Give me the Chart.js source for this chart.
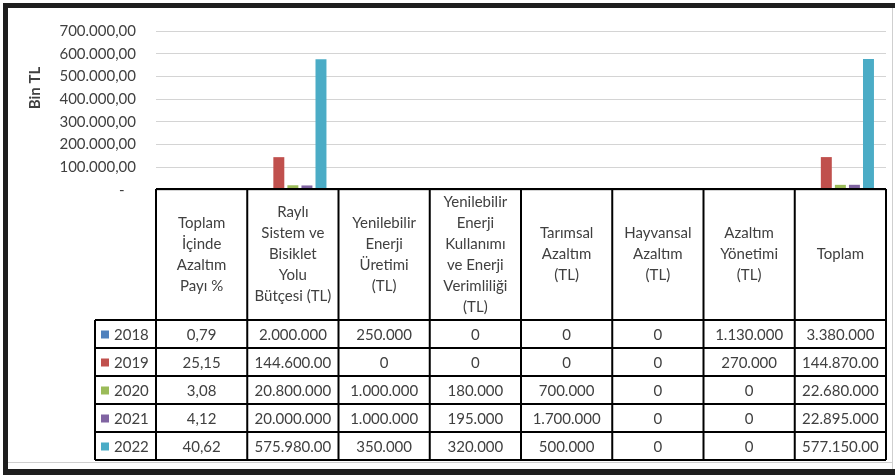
<!DOCTYPE html>
<html lang="tr">
<head>
  <meta charset="UTF-8">
  <title>Azaltım Bütçesi</title>
  <script src="https://cdn.jsdelivr.net/npm/chart.js"></script>
  <style>
    * { box-sizing: border-box; }
    body { margin: 0; background: #fff; }
    .wrap { position: relative; width: 895px; height: 475px; }
  </style>
</head>
<body>
  <div class="wrap"><canvas id="chart" width="895" height="475"></canvas></div>

  <script>
    // kategori başlıkları (tablo başlık satırı)
    const categories = [
      ['Toplam', 'İçinde', 'Azaltım', 'Payı %'],
      ['Raylı', 'Sistem ve', 'Bisiklet', 'Yolu', 'Bütçesi (TL)'],
      ['Yenilebilir', 'Enerji', 'Üretimi', '(TL)'],
      ['Yenilebilir', 'Enerji', 'Kullanımı', 've Enerji', 'Verimliliği', '(TL)'],
      ['Tarımsal', 'Azaltım', '(TL)'],
      ['Hayvansal', 'Azaltım', '(TL)'],
      ['Azaltım', 'Yönetimi', '(TL)'],
      ['Toplam']
    ];
    const years = ['2018', '2019', '2020', '2021', '2022'];
    const colors = ['#4F81BD', '#C0504D', '#9BBB59', '#8064A2', '#4BACC6'];

    // değerler (TL, ilk sütun %)
    const values2018 = [0.79, 2000000, 250000, 0, 0, 0, 1130000, 3380000];
    const values2019 = [25.15, 144600000, 0, 0, 0, 0, 270000, 144870000];
    const values2020 = [3.08, 20800000, 1000000, 180000, 700000, 0, 0, 22680000];
    const values2021 = [4.12, 20000000, 1000000, 195000, 1700000, 0, 0, 22895000];
    const values2022 = [40.62, 575980000, 350000, 320000, 500000, 0, 0, 577150000];

    // tabloda görünen metinler (hücreye sığmayanlar kesik)
    const text2018 = ['0,79', '2.000.000', '250.000', '0', '0', '0', '1.130.000', '3.380.000'];
    const text2019 = ['25,15', '144.600.00', '0', '0', '0', '0', '270.000', '144.870.00'];
    const text2020 = ['3,08', '20.800.000', '1.000.000', '180.000', '700.000', '0', '0', '22.680.000'];
    const text2021 = ['4,12', '20.000.000', '1.000.000', '195.000', '1.700.000', '0', '0', '22.895.000'];
    const text2022 = ['40,62', '575.980.00', '350.000', '320.000', '500.000', '0', '0', '577.150.00'];

    const yTicks = [0, 100000, 200000, 300000, 400000, 500000, 600000, 700000];

    const allValues = [values2018, values2019, values2020, values2021, values2022];
    const allText = [text2018, text2019, text2020, text2021, text2022];

    // grafik Bin TL cinsinden
    const toBin = (arr) => arr.map((v, i) => i === 0 ? v : v / 1000);

    const FONT = 'Lato, "Open Sans", sans-serif';
    const TXT = '#404040';

    const fmt = (v) => {
      if (v === 0) return '-   ';
      return v.toLocaleString('tr-TR', { minimumFractionDigits: 2, maximumFractionDigits: 2 });
    };

    const framePlugin = {
      id: 'frame',
      beforeDraw(chart) {
        const ctx = chart.ctx;
        ctx.save();
        ctx.fillStyle = '#fff';
        ctx.fillRect(0, 0, chart.width, chart.height);
        ctx.restore();
      },
      afterDraw(chart) {
        const ctx = chart.ctx;
        const W = chart.width, H = chart.height;
        ctx.save();
        // dış çerçeve
        ctx.fillStyle = '#1e1e1e';
        ctx.fillRect(3, 3, W - 3, 5);
        ctx.fillRect(3, 3, 5, H - 3);
        ctx.fillRect(3, 469, W - 3, 6);
        ctx.strokeStyle = '#cfcfcf';
        ctx.lineWidth = 1;
        ctx.beginPath();
        ctx.moveTo(892.5, 8); ctx.lineTo(892.5, 469);
        ctx.moveTo(8, 462.5); ctx.lineTo(892, 462.5);
        ctx.stroke();

        // eksen başlığı
        ctx.translate(35, 88);
        ctx.rotate(-Math.PI / 2);
        ctx.fillStyle = TXT;
        ctx.font = 'bold 15px ' + FONT;
        ctx.textAlign = 'center';
        ctx.textBaseline = 'middle';
        ctx.fillText('Bin TL', 0, 0);
        ctx.restore();
      }
    };

    const tablePlugin = {
      id: 'dataTable',
      afterDraw(chart) {
        const ctx = chart.ctx;
        const x = chart.scales.x;
        const area = chart.chartArea;
        const n = categories.length;
        const colW = (area.right - area.left) / n;
        const top = Math.round(area.bottom) - 1;
        const headBottom = top + 131;
        const rowH = 28;
        const bottom = headBottom + rowH * years.length;
        const labelLeft = 95;
        const edges = [];
        for (let i = 0; i < n; i++) edges.push(x.getPixelForValue(i) - colW / 2);
        edges.push(x.getPixelForValue(n - 1) + colW / 2);

        ctx.save();
        ctx.strokeStyle = '#000';
        ctx.lineWidth = 2;
        ctx.beginPath();
        // yatay çizgiler
        ctx.moveTo(edges[0], top); ctx.lineTo(edges[n], top);
        ctx.moveTo(labelLeft, headBottom); ctx.lineTo(edges[n], headBottom);
        for (let r = 1; r <= years.length; r++) {
          const y = headBottom + r * rowH;
          ctx.moveTo(labelLeft, y); ctx.lineTo(edges[n], y);
        }
        // dikey çizgiler
        ctx.moveTo(labelLeft, headBottom); ctx.lineTo(labelLeft, bottom);
        edges.forEach(e => { ctx.moveTo(e, top); ctx.lineTo(e, bottom); });
        ctx.stroke();

        ctx.fillStyle = TXT;
        ctx.textAlign = 'center';
        ctx.textBaseline = 'middle';
        ctx.font = '15px ' + FONT;
        const lh = 21;
        const midHead = (top + headBottom) / 2;
        categories.forEach((lines, i) => {
          const cx = (edges[i] + edges[i + 1]) / 2;
          const y0 = midHead - (lines.length - 1) * lh / 2;
          lines.forEach((t, k) => ctx.fillText(t, cx, y0 + k * lh));
        });

        ctx.font = '15px ' + FONT;
        years.forEach((yr, r) => {
          const cy = headBottom + r * rowH + rowH / 2 + 1;
          ctx.fillStyle = colors[r];
          ctx.fillRect(101, cy - 4.5, 8, 8);
          ctx.fillStyle = TXT;
          ctx.textAlign = 'left';
          ctx.fillText(yr, 114, cy);
          ctx.textAlign = 'center';
          allText[r].forEach((t, i) => {
            ctx.fillText(t, (edges[i] + edges[i + 1]) / 2, cy);
          });
        });
        ctx.restore();
      }
    };

    new Chart(document.getElementById('chart'), {
      type: 'bar',
      data: {
        labels: categories.map(c => c.join(' ')),
        datasets: years.map((yr, i) => ({
          label: yr,
          data: toBin(allValues[i]),
          backgroundColor: colors[i],
          borderWidth: 0,
          categoryPercentage: 0.77,
          barPercentage: 0.78
        }))
      },
      options: {
        responsive: false,
        animation: false,
        layout: { padding: { top: 31, right: 9, bottom: 0, left: 0 } },
        plugins: { legend: { display: false }, tooltip: { enabled: false } },
        scales: {
          x: {
            ticks: { display: false },
            grid: { display: false },
            border: { display: false },
            afterFit(s) { s.height = 285; }
          },
          y: {
            min: 0,
            max: 700000,
            afterBuildTicks(s) { s.ticks = yTicks.map(v => ({ value: v })); },
            afterFit(s) { s.width = 156; },
            ticks: {
              padding: 20,
              color: TXT,
              font: { family: FONT, size: 15 },
              callback: (v) => fmt(v)
            },
            grid: { color: '#d4d4d4', lineWidth: 1, drawTicks: false },
            border: { display: false }
          }
        }
      },
      plugins: [framePlugin, tablePlugin]
    });
  </script>
</body>
</html>
